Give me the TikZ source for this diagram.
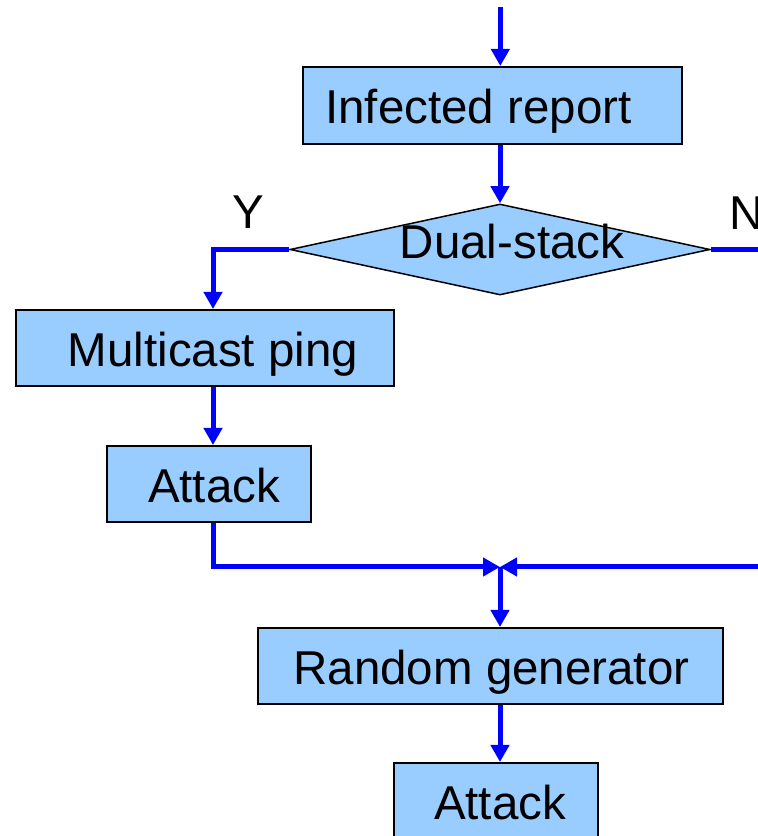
\documentclass[tikz,border=0pt]{standalone}
\usepackage{fontspec}
\setmainfont{Liberation Sans}
\usetikzlibrary{arrows.meta,shapes.geometric}
\definecolor{boxfill}{HTML}{99CCFF}
\definecolor{flowblue}{HTML}{0000FF}
\tikzset{
  box/.style={draw=black, line width=2pt, fill=boxfill, rectangle, inner sep=0pt,
    text height=37pt, text depth=0pt, font=\fontsize{47.5}{56}\selectfont},
  decision/.style={draw=black, line width=1.5pt, fill=boxfill, diamond, inner sep=0pt},
  lbl/.style={inner sep=0pt, font=\fontsize{47.5}{56}\selectfont},
  flow/.style={draw=flowblue, line width=5pt, line join=miter,
    -{Triangle[length=17pt,width=18pt]}},
  flowline/.style={draw=flowblue, line width=5pt, line join=miter},
}
\begin{document}
\begin{tikzpicture}[x=1pt,y=1pt]
\useasboundingbox (0,0) rectangle (758,836);
\clip (0,0) rectangle (758,836);
% nodes
\node[box, minimum width=379pt, minimum height=77pt] (inf) at (492.5,730.5) {Infected report\hspace*{28pt}};
\node[decision, minimum width=420pt, minimum height=91pt] (dual) at (500,586.5) {};
\node[lbl, anchor=base] (dtxt) at (512,577) {Dual-stack};
\node[lbl, anchor=base] (ylab) at (248.5,607) {Y};
\node[lbl, anchor=base west] (nlab) at (729.5,606) {N};
\node[box, minimum width=378pt, minimum height=76pt] (mcp) at (205,488) {\hspace*{16pt}Multicast ping};
\node[box, minimum width=204pt, minimum height=76pt] (att1) at (209,352) {\hspace*{10pt}Attack};
\node[box, minimum width=465pt, minimum height=76pt] (rg) at (490.5,170) {\hspace*{2pt}Random generator};
\node[box, minimum width=204pt, minimum height=76pt] (att2) at (496,35) {\hspace*{8pt}Attack};
% helper coordinates
\coordinate (top) at (500.3,829);
\coordinate (lx) at (213,0);
\coordinate (jn) at (500,269);
\coordinate (rout) at (780,586.5);
\coordinate (rin) at (780,269);
% connectors
\draw[flow] (top) -- (top |- inf.north);
\draw[flow] (inf.south -| dual.north) -- (dual.north);
\draw[flow] (dual.west) -| (lx |- mcp.north);
\draw[flowline] (dual.east) -- (rout);
\draw[flow] (lx |- mcp.south) -- (lx |- att1.north);
\draw[flow] (lx |- att1.south) |- (jn);
\draw[flow] (rin) -- (jn);
\draw[flow] (jn) -- (jn |- rg.north);
\draw[flow] (jn |- rg.south) -- (jn |- att2.north);
\end{tikzpicture}
\end{document}
